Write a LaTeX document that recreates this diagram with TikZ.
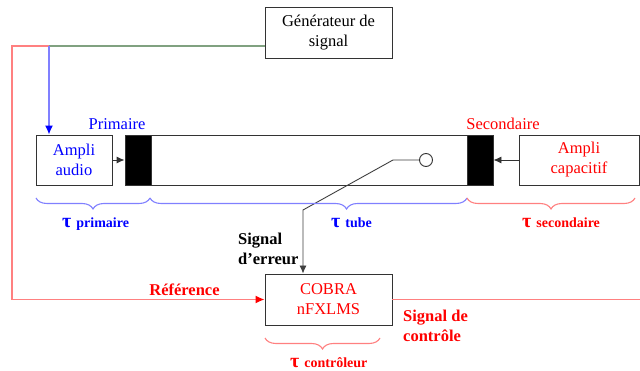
\documentclass[tikz,border=0pt]{standalone}
\usepackage{fontspec}
\setmainfont{Liberation Serif}
\usetikzlibrary{arrows.meta,decorations.pathreplacing}
\definecolor{lred}{rgb}{1,0.5,0.5}
\definecolor{lblue}{rgb}{0.5,0.5,1}
\definecolor{lgreen}{rgb}{0.5,0.63,0.5}
\begin{document}
\begin{tikzpicture}[x=1pt,y=-1pt,
  box/.style={draw=black!80, line width=0.9pt, inner sep=0pt, align=center, font=\fontsize{16.5}{20}\selectfont},
  blk/.style={fill=black, draw=black!80, line width=0.9pt, inner sep=0pt},
  tip/.style={-{Latex[length=8pt,width=7pt]}},
  lab/.style={inner sep=0pt, font=\fontsize{16.5}{20}\selectfont\bfseries, align=left},
  plain/.style={inner sep=0pt, font=\fontsize{16.5}{20}\selectfont, anchor=base},
  tau/.style={inner sep=0pt, anchor=base west},
  brc/.style={decorate, decoration={brace, mirror, amplitude=11pt}, line width=1.1pt},
  thin/.style={line width=1.4pt},
]
\useasboundingbox (0,0) rectangle (640,371);
\fill[white] (0,0) rectangle (640,371);

\node[box, minimum width=127pt, minimum height=51pt] (gen) at (328.5,32.5) {Générateur de\\signal};
\node[box, text=blue, minimum width=76pt, minimum height=50pt] (audio) at (74,160) {Ampli\\audio};
\node[draw=black!80, line width=0.9pt, minimum width=342pt, minimum height=50pt, inner sep=0pt] (tube) at (296,160) {};
\node[blk, minimum width=26pt, minimum height=50pt] (bl) at (138,160) {};
\node[blk, minimum width=26pt, minimum height=50pt] (br) at (480,160) {};
\node[box, text=red, minimum width=120pt, minimum height=50pt] (cap) at (579,160) {Ampli\\capacitif};
\node[box, text=red, minimum width=127pt, minimum height=51pt] (cobra) at (328.5,299.5) {COBRA\\nFXLMS};
\node[circle, draw=black!80, line width=0.9pt, minimum size=13pt, inner sep=0pt, fill=white] (mic) at (426,160) {};

\node[plain, text=blue] (prim) at (117,130) {Primaire};
\node[plain, text=red] (sec) at (503,130) {Secondaire};

\coordinate (j1) at (49,46);
\coordinate (c0) at (12,46);
\coordinate (k1) at (393,160);
\coordinate (k2) at (303,210);
\coordinate (ce) at (640,299.5);

\draw[lgreen, thin] (j1) -- (gen.west |- j1);
\draw[lred, thin, -{Latex[length=9pt,width=8pt,color=red]}] (j1) -- (c0) |- (cobra.west);
\draw[lblue, thin, -{Latex[length=9pt,width=8pt,color=blue]}] (j1) -- (audio.north -| j1);
\draw[black!80, line width=0.9pt, tip] (audio.east) -- (bl.west);
\draw[black!80, line width=0.9pt, tip] (cap.west) -- (br.east);
\draw[black!75, line width=0.9pt, tip] (mic.west) -- (k1) -- (k2) -- (cobra.north -| k2);
\draw[lred, thin] (cobra.east) -- (ce);

\draw[brc, lblue] (36,198) -- (150,198);
\draw[brc, lblue, decoration={aspect=0.62}] (150,198) -- (467,198);
\draw[brc, lred] (467,198) -- (635,198);
\draw[brc, lred] (265,338) -- (380,338);

\node[tau, text=blue] (tp) at (62,228) {\fontsize{20}{20}\selectfont\bfseries τ\ \fontsize{14}{16}\selectfont primaire};
\node[tau, text=blue] (tt) at (331,228) {\fontsize{20}{20}\selectfont\bfseries τ\ \fontsize{14}{16}\selectfont tube};
\node[tau, text=red] (ts) at (522,228) {\fontsize{20}{20}\selectfont\bfseries τ\ \fontsize{14}{16}\selectfont secondaire};
\node[tau, text=red] (tc) at (290,367) {\fontsize{20}{20}\selectfont\bfseries τ\ \fontsize{14}{16}\selectfont contrôleur};

\node[lab, anchor=north west] (se) at (238,233) {Signal\\d’erreur};
\node[lab, text=red, anchor=base] (ref) at (184.5,296) {Référence};
\node[lab, text=red, anchor=north west] (sc) at (403,310) {Signal de\\contrôle};
\end{tikzpicture}
\end{document}
